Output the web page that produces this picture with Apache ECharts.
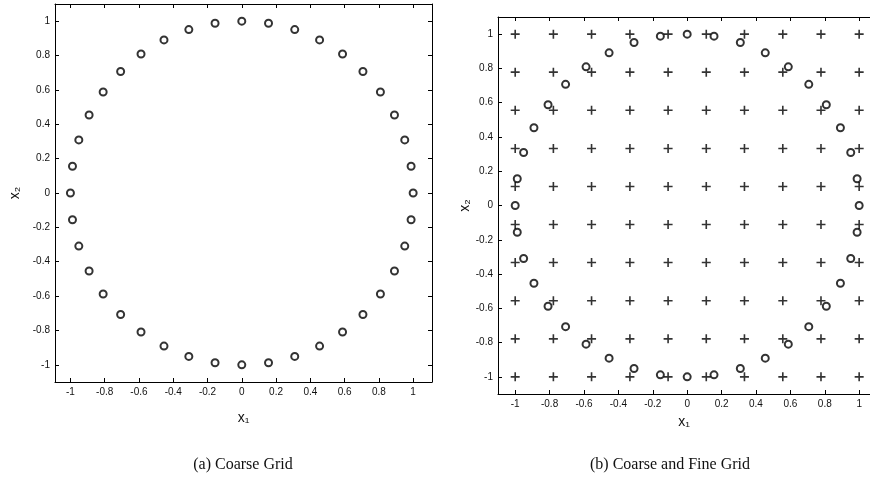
<!DOCTYPE html>
<html>
<head>
<meta charset="utf-8">
<script src="https://cdn.jsdelivr.net/npm/echarts@6/dist/echarts.min.js"></script>
<style>
	html, body { margin: 0; padding: 0; background: #fff; }
	#main { width: 870px; height: 497px; }
</style>
</head>
<body>
<div id="main"></div>
<script>
// circle points (o markers), same in both panels
const circleX = [1, 0.988, 0.951, 0.891, 0.809, 0.707, 0.588, 0.454, 0.309, 0.156,
	0, -0.156, -0.309, -0.454, -0.588, -0.707, -0.809, -0.891, -0.951, -0.988,
	-1, -0.988, -0.951, -0.891, -0.809, -0.707, -0.588, -0.454, -0.309, -0.156,
	0, 0.156, 0.309, 0.454, 0.588, 0.707, 0.809, 0.891, 0.951, 0.988]
const circleY = [0, 0.156, 0.309, 0.454, 0.588, 0.707, 0.809, 0.891, 0.951, 0.988,
	1, 0.988, 0.951, 0.891, 0.809, 0.707, 0.588, 0.454, 0.309, 0.156,
	0, -0.156, -0.309, -0.454, -0.588, -0.707, -0.809, -0.891, -0.951, -0.988,
	-1, -0.988, -0.951, -0.891, -0.809, -0.707, -0.588, -0.454, -0.309, -0.156]

// fine grid (+ markers), right panel only
const gridX = [-1, -0.778, -0.556, -0.333, -0.111, 0.111, 0.333, 0.556, 0.778, 1]
const gridY = [-1, -0.778, -0.556, -0.333, -0.111, 0.111, 0.333, 0.556, 0.778, 1]

const tickValues = [-1, -0.8, -0.6, -0.4, -0.2, 0, 0.2, 0.4, 0.6, 0.8, 1]
const captions = ['(a) Coarse Grid', '(b) Coarse and Fine Grid']

const circleData = circleX.map((x, i) => [x, circleY[i]])
const plusData = []
gridY.forEach(y => gridX.forEach(x => plusData.push([x, y])))

const labelFont = { fontFamily: 'Liberation Sans', fontSize: 10, color: '#111' }
const nameFont = { fontFamily: 'Liberation Sans', fontSize: 14, color: '#111' }
const line = { show: true, onZero: false, lineStyle: { color: '#000', width: 1 } }

// one axis, with or without labels
const axis = (gridIndex, position, min, max, showLabel, name, gap) => ({
	type: 'value',
	gridIndex: gridIndex,
	position: position,
	min: min,
	max: max,
	name: name || '',
	nameLocation: 'middle',
	nameGap: gap || 0,
	nameRotate: (position === 'left' && name) ? 90 : 0,
	nameTextStyle: nameFont,
	axisLine: line,
	axisTick: { show: true, inside: true, length: 4, customValues: tickValues, lineStyle: { color: '#000' } },
	axisLabel: { show: showLabel, margin: 5, customValues: tickValues, ...labelFont,
		formatter: v => String(v) },
	splitLine: { show: false }
})

const myChart = echarts.init(document.getElementById('main'))

// right border of panel (b) falls outside the picture
const hiddenRight = axis(1, 'right', -1.1, 1.1, false)
hiddenRight.show = false

myChart.setOption({
	animation: false,
	grid: [
		{ left: 55, top: 4, width: 377, height: 378 },
		{ left: 498, top: 17, width: 373, height: 377 }
	],
	xAxis: [
		axis(0, 'bottom', -1.09, 1.11, true, 'x₁', 29),
		axis(0, 'top', -1.09, 1.11, false),
		axis(1, 'bottom', -1.1, 1.063, true, 'x₁', 21),
		axis(1, 'top', -1.1, 1.063, false)
	],
	yAxis: [
		axis(0, 'left', -1.1, 1.1, true, 'x₂', 33),
		axis(0, 'right', -1.1, 1.1, false),
		axis(1, 'left', -1.1, 1.1, true, 'x₂', 26),
		hiddenRight
	],
	series: [
		{
			type: 'scatter',
			xAxisIndex: 0,
			yAxisIndex: 0,
			symbol: 'emptyCircle',
			symbolSize: 7,
			itemStyle: { color: '#000', borderWidth: 1.5 },
			data: circleData
		},
		{
			type: 'scatter',
			xAxisIndex: 2,
			yAxisIndex: 2,
			symbol: 'path://M0,4.1H10V5.9H0ZM4.1,0H5.9V10H4.1Z',
			symbolSize: 9,
			itemStyle: { color: '#000' },
			data: plusData
		},
		{
			type: 'scatter',
			xAxisIndex: 2,
			yAxisIndex: 2,
			symbol: 'emptyCircle',
			symbolSize: 7,
			itemStyle: { color: '#000', borderWidth: 1.5 },
			data: circleData
		}
	],
	graphic: [
		{ type: 'text', x: 243, y: 465, style: { text: captions[0], align: 'center', verticalAlign: 'middle',
			font: '16px "Liberation Serif"', fill: '#111' } },
		{ type: 'text', x: 670, y: 465, style: { text: captions[1], align: 'center', verticalAlign: 'middle',
			font: '16px "Liberation Serif"', fill: '#111' } }
	]
})
</script>
</body>
</html>
